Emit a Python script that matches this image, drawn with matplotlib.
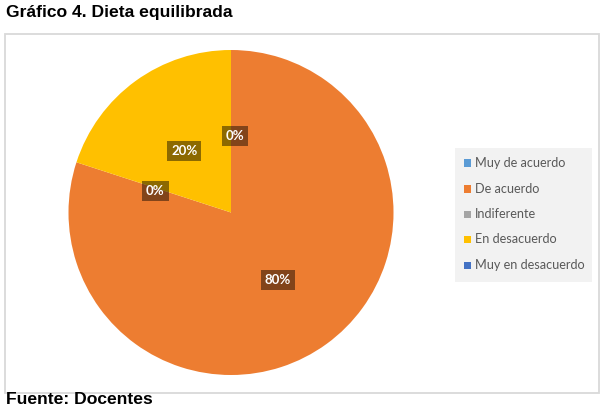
import matplotlib
matplotlib.use("Agg")
import matplotlib.pyplot as plt
from matplotlib.patches import Rectangle
import numpy as np

categories = ["Muy de acuerdo", "De acuerdo", "Indiferente", "En desacuerdo", "Muy en desacuerdo"]
values = [0, 80, 0, 20, 0]
labels_txt = ["0%", "80%", "0%", "20%", ""]
colors = ["#5B9BD5", "#ED7D31", "#A5A5A5", "#FFC000", "#4472C4"]
title = "Gráfico 4. Dieta equilibrada"
source = "Fuente: Docentes"

W, H = 604, 408
fig = plt.figure(figsize=(W/100, H/100), dpi=100)
fig.patch.set_facecolor("white")

def fx(x): return x / W
def fy(y): return 1 - y / H

# chart border
fig.patches.append(Rectangle((fx(5), fy(393)), fx(599) - fx(5), fy(34) - fy(393),
                             transform=fig.transFigure, fill=False,
                             edgecolor="#D9D9D9", linewidth=1.3))

# title and source
fig.text(fx(6), fy(13), title, fontsize=12.6, fontweight="bold", family="Liberation Sans",
         ha="left", va="center", color="#000000")
fig.text(fx(6), fy(407.5), source, fontsize=12.6, fontweight="bold", family="Liberation Sans",
         ha="left", va="bottom", color="#000000")

cx, cy, r = 231, 212.5, 162.5
ax = fig.add_axes([fx(cx - r), fy(cy + r), 2 * r / W, 2 * r / H])
wedges, _ = ax.pie(values, colors=colors, startangle=90, counterclock=False,
                   radius=1, wedgeprops=dict(linewidth=0))
ax.set_xlim(-1, 1)
ax.set_ylim(-1, 1)
ax.set_aspect("auto")
ax.axis("off")

# data labels
total = sum(values)
ang = 90.0
for v, t in zip(values, labels_txt):
    span = 360.0 * v / total
    mid = np.deg2rad(ang - span / 2)
    ang -= span
    if not t:
        continue
    d = 0.49
    ax.text(d * np.cos(mid) + (0.025 if v == 0 and abs(np.cos(mid)) < 0.2 else 0),
            d * np.sin(mid) - 0.02, t, ha="center", va="center", color="white",
            fontsize=9.5, fontweight="bold", family="Lato",
            bbox=dict(boxstyle="square,pad=0.3", facecolor="#000000", alpha=0.45,
                      edgecolor="none"))

# legend
lx0, ly0, lx1, ly1 = 455, 148, 592, 282
fig.patches.append(Rectangle((fx(lx0), fy(ly1)), fx(lx1) - fx(lx0), fy(ly0) - fy(ly1),
                             transform=fig.transFigure, facecolor="#F2F2F2",
                             edgecolor="none"))
ys = [163, 189, 214, 239, 265]
for c, lab, y in zip(colors, categories, ys):
    fig.patches.append(Rectangle((fx(464), fy(y + 3.5)), 7 / W, 7 / H,
                                 transform=fig.transFigure, facecolor=c, edgecolor="none"))
    fig.text(fx(475), fy(y), lab, fontsize=9.1, family="Lato", color="#595959",
             ha="left", va="center")

fig.savefig("out.png", dpi=100)
